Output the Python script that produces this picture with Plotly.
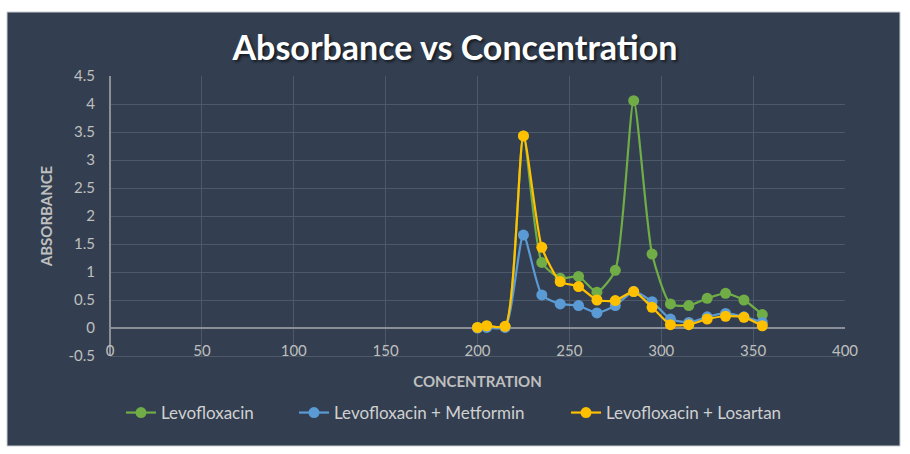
import plotly.graph_objects as go

concentration = [200, 205, 215, 225, 235, 245, 255, 265, 275, 285, 295, 305, 315, 325, 335, 345, 355]
levofloxacin = [0.01, 0.03, 0.02, 3.43, 1.17, 0.89, 0.92, 0.64, 1.03, 4.06, 1.32, 0.43, 0.40, 0.53, 0.62, 0.50, 0.24]
levo_metformin = [0.00, 0.01, 0.01, 1.66, 0.59, 0.43, 0.40, 0.27, 0.40, 0.65, 0.47, 0.16, 0.10, 0.20, 0.26, 0.20, 0.10]
levo_losartan = [0.01, 0.04, 0.03, 3.43, 1.44, 0.83, 0.74, 0.50, 0.49, 0.65, 0.37, 0.06, 0.06, 0.16, 0.21, 0.19, 0.04]

x_ticks = [0, 50, 100, 150, 200, 250, 300, 350, 400]
y_ticks = [-0.5, 0, 0.5, 1, 1.5, 2, 2.5, 3, 3.5, 4, 4.5]

W, H = 910, 454
L, R, T, B = 110, 65, 76, 98
PANEL = "#333F50"
TXT = "#BFBFBF"
GRID = "#4D5868"
FONT = "Lato"

series = [
    ("Levofloxacin", levofloxacin, "#70AD47", "legend", 127),
    ("Levofloxacin + Metformin", levo_metformin, "#5B9BD5", "legend2", 300),
    ("Levofloxacin + Losartan", levo_losartan, "#FFC000", "legend3", 572),
]

pw = W - L - R
ph = H - T - B

fig = go.Figure()
legends = {}
for name, ys, col, lg, px in series:
    fig.add_trace(go.Scatter(
        x=concentration, y=ys, name=name, mode="lines+markers", legend=lg,
        line=dict(color=col, width=2.2, shape="spline", smoothing=0.6),
        marker=dict(color=col, size=11, line=dict(width=0)),
    ))
    legends[lg] = dict(orientation="h", x=(px - 6 - L) / pw, xanchor="left",
                       y=-(413 - (H - B)) / ph, yanchor="middle",
                       font=dict(family=FONT, size=17, color="#D0D0D0"),
                       bgcolor="rgba(0,0,0,0)", itemwidth=30)

fig.add_shape(type="rect", xref="paper", yref="paper", layer="below",
              x0=(7 - L) / pw, x1=(900 - L) / pw,
              y0=1 - (446 - T) / ph, y1=1 + (T - 12) / ph,
              fillcolor=PANEL, line=dict(color="#C9CDD3", width=1))

fig.update_layout(
    width=W, height=H,
    margin=dict(l=L, r=R, t=T, b=B),
    paper_bgcolor="white",
    plot_bgcolor=PANEL,
    font=dict(family=FONT, color=TXT, size=14),
    title=dict(text="<b>Absorbance vs Concentration</b>", x=0.5, xanchor="center",
               y=1 - 48 / H, yanchor="middle",
               font=dict(family=FONT, size=34, color="white",
                         shadow="2px 2px 3px rgba(0,0,0,0.6)")),
    showlegend=True,
    **legends,
)
fig.update_xaxes(
    range=[0, 400], tickvals=x_ticks, ticktext=[str(v) for v in x_ticks],
    showgrid=True, gridcolor=GRID, gridwidth=1,
    zeroline=True, zerolinecolor="#8A8F98", zerolinewidth=1.5,
    ticks="", ticklabelposition="inside", ticklabeloverflow="allow",
    ticklabelstandoff=-3, tickfont=dict(size=15, color=TXT),
    title=dict(text="<b>CONCENTRATION</b>", font=dict(size=15, color=TXT), standoff=18),
    showline=True, linecolor=GRID, linewidth=1,
)
fig.update_yaxes(
    range=[-0.5, 4.5], tickvals=y_ticks, ticktext=[f"{v:g}" for v in y_ticks],
    showgrid=True, gridcolor=GRID, gridwidth=1,
    zeroline=True, zerolinecolor="#8A8F98", zerolinewidth=1.5,
    ticks="", tickfont=dict(size=15, color=TXT), ticklabelstandoff=14,
    title=dict(text="<b>ABSORBANCE</b>", font=dict(size=15, color=TXT), standoff=12),
)

fig.write_html("out.html", config={"displayModeBar": False},
               post_script="document.body.style.margin='0';")
